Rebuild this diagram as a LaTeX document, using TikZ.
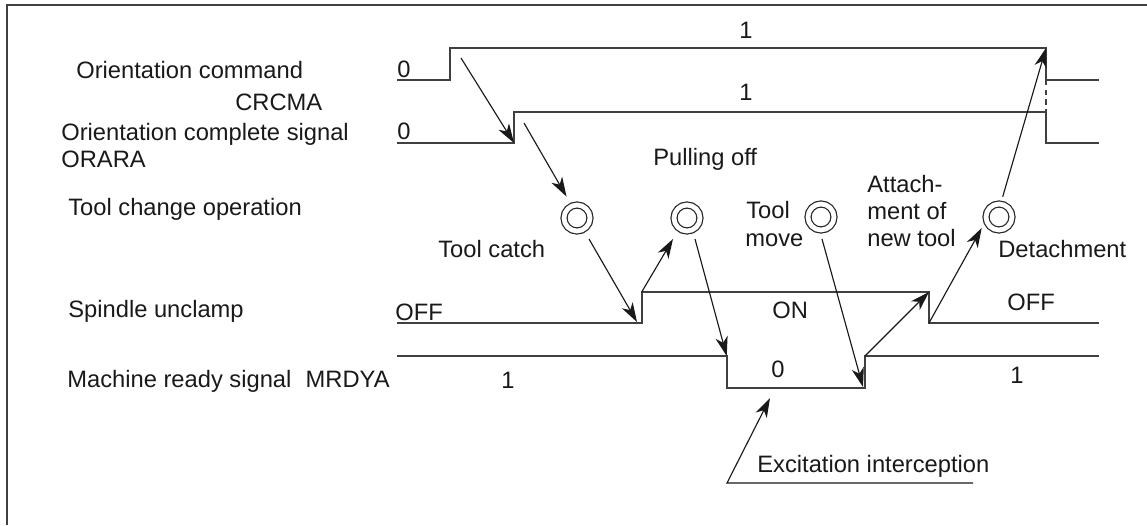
\documentclass[tikz,border=0pt]{standalone}
\usepackage{fontspec}
\setmainfont{Liberation Sans}
\usetikzlibrary{arrows.meta}
\begin{document}
\begin{tikzpicture}[x=0.02cm,y=-0.02cm,
 sig/.style={line width=0.95pt, draw=black!75, line join=miter},
 arr/.style={line width=0.65pt, draw=black!90, -{Stealth[length=11pt,width=7pt,inset=3.2pt]}},
 lbl/.style={inner sep=0pt, anchor=base west, font=\fontsize{13.5}{15.3}\selectfont, text=black!90},
 clbl/.style={lbl, anchor=base},
 ring/.style={circle, draw=black!85, double, double distance=2.7pt, line width=0.7pt, minimum size=0.52cm, inner sep=0pt},
]
\useasboundingbox (0,0) rectangle (1147,525);
\draw[line width=1.2pt, black!75] (7,525) -- (7,5) -- (1147,5);

% left labels
\node[lbl] (lOC) at (76,78) {Orientation command};
\node[lbl] (lCR) at (235,110) {CRCMA};
\node[lbl] (lOS) at (61,140) {Orientation complete signal};
\node[lbl] (lOR) at (61,167) {ORARA};
\node[lbl] (lTC) at (68,215) {Tool change operation};
\node[lbl] (lSU) at (68,317) {Spindle unclamp};
\node[lbl] (lMR) at (67,387) {Machine ready signal\hspace{0.6em}MRDYA};

% CRCMA waveform
\coordinate (crF) at (1046,48);
\draw[sig] (397,80) -- (450,80) -- (450,48) -- (crF) -- (1046,80) -- (1099,80);
\draw[sig, dash pattern=on 3pt off 2.5pt] (1046,80) -- (1046,112);
\node[lbl] (v0a) at (397,77) {0};
\node[clbl] (v1a) at (746,38) {1};

% ORARA waveform
\coordinate (orR) at (514,143);
\draw[sig] (397,143) -- (orR) -- (514,112) -- (1046,112) -- (1046,143) -- (1099,143);
\node[lbl] (v0b) at (397,139) {0};
\node[clbl] (v1b) at (746,100) {1};

% Spindle unclamp waveform
\coordinate (spRb) at (641.7,323);
\coordinate (spRt) at (641.7,292);
\coordinate (spFt) at (929,292);
\coordinate (spFb) at (929,323);
\draw[sig] (397,323) -- (spRb) -- (spRt) -- (spFt) -- (spFb) -- (1099,323);
\node[lbl] (sOFFa) at (395,320) {OFF};
\node[lbl] (sON) at (772,318) {ON};
\node[lbl] (sOFFb) at (1007,310) {OFF};

% Machine ready waveform
\coordinate (mrFt) at (726.7,356);
\coordinate (mrFb) at (726.7,388);
\coordinate (mrRb) at (865,388);
\coordinate (mrRt) at (865,356);
\draw[sig] (397,356) -- (mrFt) -- (mrFb) -- (mrRb) -- (mrRt) -- (1099,356);
\node[clbl] (m1a) at (508,388) {1};
\node[clbl] (m0) at (778,377) {0};
\node[clbl] (m1b) at (1017,383) {1};

% tool change steps
\node[ring] (c1) at (577,218) {};
\node[ring] (c2) at (687,218) {};
\node[ring] (c3) at (821,217) {};
\node[ring] (c4) at (999,217) {};
\node[lbl] (tCatch) at (438,257) {Tool catch};
\node[lbl] (tPull) at (653,165) {Pulling off};
\node[lbl] (tTool) at (746,218) {Tool};
\node[lbl] (tMove) at (745,246) {move};
\node[lbl] (tAt1) at (867,192) {Attach-};
\node[lbl] (tAt2) at (867,219) {ment of};
\node[lbl] (tAt3) at (867,246) {new tool};
\node[lbl] (tDet) at (998,257) {Detachment};

% arrow end points near the rings
\coordinate (a1s) at (461,58);
\coordinate (a2s) at (524,123);
\coordinate (c1in) at (566.5,196.5);
\coordinate (c1out) at (589,239);
\coordinate (a3e) at (637,322);
\coordinate (c2in) at (673,239);
\coordinate (c2out) at (695,239);
\coordinate (c3out) at (822,239);
\coordinate (a6e) at (863,387);
\coordinate (c4in) at (981.7,228);
\coordinate (c4out) at (1002.7,196.7);

\draw[arr] (a1s) -- (orR);
\draw[arr] (a2s) -- (c1in);
\draw[arr] (c1out) -- (a3e);
\draw[arr] (spRt) -- (c2in);
\draw[arr] (c2out) -- (mrFt);
\draw[arr] (c3out) -- (a6e);
\draw[arr] (mrRt) -- (spFt);
\draw[arr] (spFb) -- (c4in);
\draw[arr] (c4out) -- (crF);

% excitation interception
\coordinate (exR) at (973,483);
\coordinate (exL) at (727,483);
\coordinate (exT) at (770,398);
\draw[arr] (exR) -- (exL) -- (exT);
\node[lbl] (tEx) at (757,472) {Excitation interception};
\end{tikzpicture}
\end{document}
